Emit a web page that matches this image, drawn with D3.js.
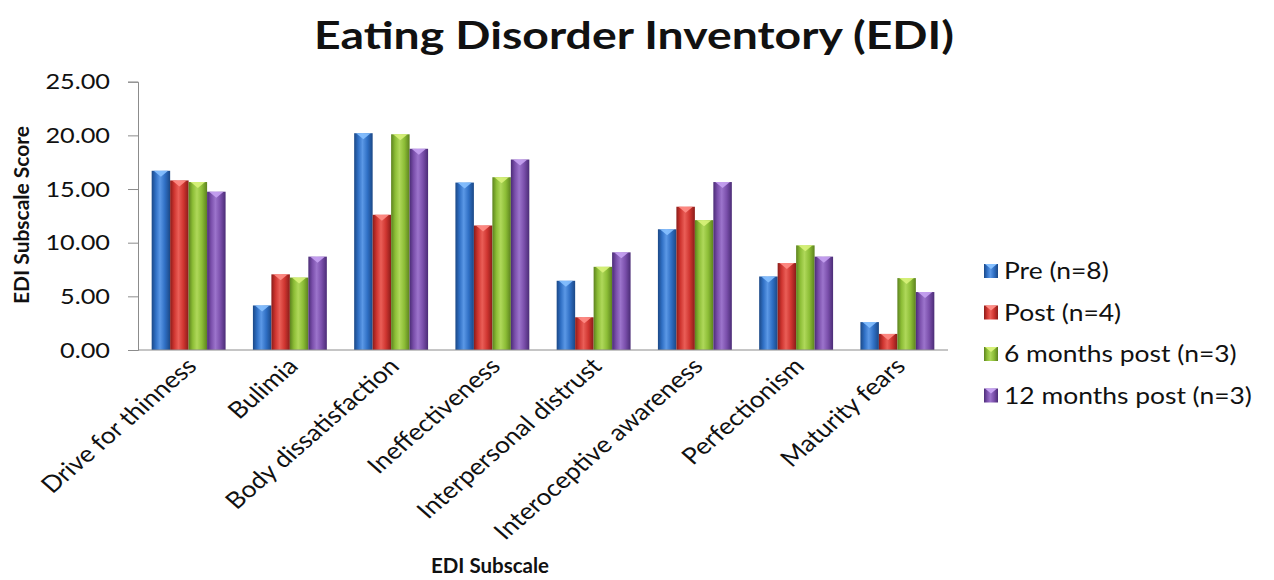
<!DOCTYPE html>
<html>
<head>
<meta charset="utf-8">
<script src="https://cdn.jsdelivr.net/npm/d3@7"></script>
<style>
  html, body { margin: 0; padding: 0; background: #fff; }
  svg { display: block; }
  text { font-family: Lato, "Open Sans", sans-serif; fill: #111; }
</style>
</head>
<body>
<svg id="chart" width="1274" height="580"></svg>
<script>
// ---- data ----
const categories = ["Drive for thinness", "Bulimia", "Body dissatisfaction", "Ineffectiveness",
                    "Interpersonal distrust", "Interoceptive awareness", "Perfectionism", "Maturity fears"];
const seriesNames = ["Pre (n=8)", "Post (n=4)", "6 months post (n=3)", "12 months post (n=3)"];
const pre     = [16.70, 4.15, 20.20, 15.60, 6.45, 11.25, 6.85, 2.60];
const post    = [15.80, 7.05, 12.60, 11.60, 3.05, 13.35, 8.10, 1.50];
const m6      = [15.65, 6.75, 20.10, 16.10, 7.75, 12.10, 9.75, 6.70];
const m12     = [14.75, 8.70, 18.75, 17.75, 9.10, 15.65, 8.70, 5.40];
const yTicks  = [0, 5, 10, 15, 20, 25];
const title = "Eating Disorder Inventory (EDI)";
const xTitle = "EDI Subscale";
const yTitle = "EDI Subscale Score";

const seriesValues = [pre, post, m6, m12];
const colors = [
  {base: "#2f6fc4", light: "#5b98e6", dark: "#1b4886", cap: "#86c0ff"},
  {base: "#cf3530", light: "#ea5e57", dark: "#8a1c19", cap: "#ff8d86"},
  {base: "#8cbd36", light: "#afd85a", dark: "#5c821e", cap: "#d8f27a"},
  {base: "#7a4fab", light: "#9c74cc", dark: "#4b2c76", cap: "#c6a2f2"}
];

const SX = 1.15; // horizontal text stretch
const svg = d3.select("#chart");
const defs = svg.append("defs");
colors.forEach((c, i) => {
  const g = defs.append("linearGradient").attr("id", "grad" + i)
    .attr("x1", "0%").attr("x2", "100%").attr("y1", "0%").attr("y2", "0%");
  g.append("stop").attr("offset", "0%").attr("stop-color", c.dark);
  g.append("stop").attr("offset", "22%").attr("stop-color", c.base);
  g.append("stop").attr("offset", "45%").attr("stop-color", c.light);
  g.append("stop").attr("offset", "72%").attr("stop-color", c.base);
  g.append("stop").attr("offset", "100%").attr("stop-color", c.dark);
});

const x0 = d3.scaleBand().domain(categories).range([138, 948]).paddingInner(0.27).paddingOuter(0.135);
const x1 = d3.scaleBand().domain(d3.range(seriesNames.length)).range([0, x0.bandwidth()]).padding(0);
const y = d3.scaleLinear().domain([0, 25]).range([350, 81.7]);

function stretchAt(sel, ax) {
  sel.attr("transform", `translate(${ax * (1 - SX)},0) scale(${SX},1)`);
}

// title
svg.append("text").attr("x", 634).attr("y", 49).attr("text-anchor", "middle")
  .style("font-size", "38px").style("font-weight", "bold")
  .attr("textLength", 640).attr("lengthAdjust", "spacingAndGlyphs")
  .text(title);

// y axis
const yAxis = svg.append("g").attr("transform", "translate(138,0)")
  .call(d3.axisLeft(y).tickValues(yTicks).tickFormat(d3.format(".2f")).tickSize(10).tickPadding(18));
yAxis.select(".domain").attr("stroke", "#8c8c8c");
yAxis.selectAll(".tick line").attr("stroke", "#8c8c8c");
yAxis.selectAll(".tick text").style("font-size", "22px").style("font-family", "Lato, sans-serif").attr("fill", "#222")
  .each(function() { stretchAt(d3.select(this), -28); });

// bars
const groups = svg.append("g").selectAll("g").data(categories).join("g")
  .attr("transform", d => `translate(${x0(d)},0)`);
groups.each(function(cat, ci) {
  const g = d3.select(this);
  seriesValues.forEach((vals, si) => {
    const bx = x1(si), bw = x1.bandwidth(), top = y(vals[ci]);
    g.append("rect").attr("x", bx).attr("y", top).attr("width", bw).attr("height", y(0) - top)
      .attr("fill", `url(#grad${si})`);
    g.append("path")
      .attr("d", `M${bx + 2},${top} L${bx + bw - 2},${top} L${bx + bw / 2},${top + 6} Z`)
      .attr("fill", colors[si].cap).attr("opacity", 0.9);
  });
});

// x axis line
svg.append("line").attr("x1", 138).attr("x2", 948).attr("y1", y(0)).attr("y2", y(0)).attr("stroke", "#8c8c8c");

// category labels
categories.forEach(cat => {
  const cx = x0(cat) + x0.bandwidth() / 2 + 3;
  svg.append("g").attr("transform", `translate(${cx},362) scale(${SX},1) rotate(-45)`)
    .append("text").attr("text-anchor", "end").attr("dy", "0.35em")
    .style("font-size", "23px").text(cat);
});

// axis titles
svg.append("text").attr("x", 490).attr("y", 573).attr("text-anchor", "middle")
  .style("font-size", "21px").style("font-weight", "bold")
  .attr("textLength", 118).attr("lengthAdjust", "spacingAndGlyphs").text(xTitle);
svg.append("text").attr("transform", "translate(29,215) rotate(-90)").attr("text-anchor", "middle")
  .style("font-size", "21px").style("font-weight", "bold")
  .attr("textLength", 178).attr("lengthAdjust", "spacingAndGlyphs").text(yTitle);

// legend
const legend = svg.append("g").selectAll("g").data(seriesNames).join("g")
  .attr("transform", (d, i) => `translate(984,${271 + i * 41.5})`);
legend.append("rect").attr("x", 0).attr("y", -7).attr("width", 14).attr("height", 14)
  .attr("fill", (d, i) => `url(#grad${i})`);
legend.append("path").attr("d", "M1,-7 L13,-7 L7,-2 Z").attr("fill", (d, i) => colors[i].cap);
legend.append("text").attr("x", 20).attr("dy", "0.36em").style("font-size", "23px").text(d => d)
  .each(function() { stretchAt(d3.select(this), 20); });
</script>
</body>
</html>
